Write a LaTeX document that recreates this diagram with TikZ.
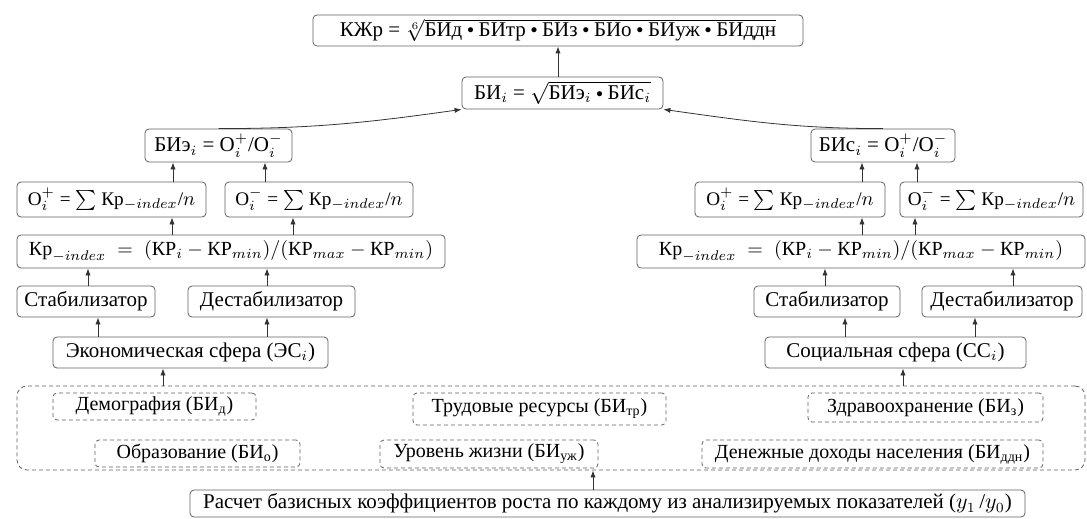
\documentclass[tikz,border=0pt]{standalone}
\usepackage{amsmath}
\usepackage{fontspec}
\setmainfont{Liberation Serif}
\usetikzlibrary{arrows.meta}
\newcommand{\mdot}{\mathbin{\vcenter{\hbox{\scalebox{0.6}{$\bullet$}}}}}

\begin{document}
\begin{tikzpicture}[x=0.5pt,y=-0.5pt,
  main/.style={draw=gray!75!black,rounded corners=2pt,inner sep=0pt,font=\fontsize{10.5}{12}\selectfont},
  wh/.style 2 args={minimum width=#1*0.5pt,minimum height=#2*0.5pt},
  dashbox/.style={main,dash pattern=on 2pt off 1.5pt,font=\fontsize{10}{12}\selectfont},
  small/.style={font=\fontsize{9.6}{11}\selectfont},
  arr/.style={-{Latex[length=3.5pt,width=2.6pt]},draw=gray!40!black,line width=0.4pt}]
\useasboundingbox (0,0) rectangle (1087,519);

\node[main,wh={490}{31}] (1) at (558,30.5) {КЖр = $\sqrt[6]{\text{БИд} \mdot \text{БИтр} \mdot \text{БИз} \mdot \text{БИо} \mdot \text{БИуж} \mdot \text{БИддн}}$};
\node[main,wh={201}{32}] (2) at (562.5,93) {БИ$_i$ = $\sqrt{\text{БИэ}_i \mdot \text{БИс}_i}$};
\node[main,wh={147}{33}] (3) at (218.5,145.5) {БИэ$_i$ = О$_i^+$/О$_i^-$};
\node[main,wh={144}{33}] (4) at (883,145.5) {БИс$_i$ = О$_i^+$/О$_i^-$};
\node[main,small,wh={189}{35}] (5) at (111.5,199.5) {О$_i^+$ = $\sum$ Кр$_{-index}$/$n$};
\node[main,small,wh={188}{35}] (6) at (319,199.5) {О$_i^-$ = $\sum$ Кр$_{-index}$/$n$};
\node[main,small,wh={190}{35}] (7) at (790,199.5) {О$_i^+$ = $\sum$ Кр$_{-index}$/$n$};
\node[main,small,wh={183}{35}] (8) at (991.5,199.5) {О$_i^-$ = $\sum$ Кр$_{-index}$/$n$};
\node[main,font=\fontsize{10}{12}\selectfont,wh={428}{33}] (9) at (231,251.5) {$\text{Кр}_{-index} \;=\; (\text{КР}_i - \text{КР}_{min})/(\text{КР}_{max} - \text{КР}_{min})$};
\node[main,font=\fontsize{10}{12}\selectfont,wh={448}{33}] (10) at (861,251.5) {$\text{Кр}_{-index} \;=\; (\text{КР}_i - \text{КР}_{min})/(\text{КР}_{max} - \text{КР}_{min})$};
\node[main,wh={138}{31}] (11) at (86,301.5) {Стабилизатор};
\node[main,wh={167}{31}] (12) at (271.5,301.5) {Дестабилизатор};
\node[main,wh={146}{31}] (13) at (827,301.5) {Стабилизатор};
\node[main,wh={160}{31}] (14) at (1002,301.5) {Дестабилизатор};
\node[main,wh={275}{31}] (15) at (190.5,352.5) {Экономическая сфера (ЭС$_i$)};
\node[main,wh={261}{31}] (16) at (895.5,352.5) {Социальная сфера (СС$_i$)};
\node[dashbox,wh={1068}{84},rounded corners=5pt] (17) at (551,428) {};
\node[dashbox,wh={203}{27}] (18) at (154.5,406.5) {Демография (БИ\textsubscript{д})};
\node[dashbox,wh={253}{32}] (19) at (539.5,409) {Трудовые ресурсы (БИ\textsubscript{тр})};
\node[dashbox,wh={235}{29}] (20) at (925.5,407.5) {Здравоохранение (БИ\textsubscript{з})};
\node[dashbox,wh={205}{27}] (21) at (197.5,453.5) {Образование (БИ\textsubscript{о})};
\node[dashbox,wh={218}{28}] (22) at (489,454) {Уровень жизни (БИ\textsubscript{уж})};
\node[dashbox,wh={341}{28}] (23) at (872.5,454) {Денежные доходы населения (БИ\textsubscript{ддн})};
\node[main,wh={835}{27}] (24) at (607.5,503.5) {Расчет базисных коэффициентов роста по каждому из анализируемых показателей ($y_1$\,/$y_0$)};

\draw[arr] (2.north -| 558,0) -- (1.south -| 558,0);
\draw[arr] (3.north) to[out=0,in=188] (2.south west);
\draw[arr] (4.north) to[out=180,in=-8] (2.south east);
\draw[arr] (5.north -| 173,0) -- (3.south -| 173,0);
\draw[arr] (6.north -| 265,0) -- (3.south -| 265,0);
\draw[arr] (7.north -| 862,0) -- (4.south -| 862,0);
\draw[arr] (8.north -| 917,0) -- (4.south -| 917,0);
\draw[arr] (9.north -| 172,0) -- (5.south -| 172,0);
\draw[arr] (9.north -| 293,0) -- (6.south -| 293,0);
\draw[arr] (10.north -| 862,0) -- (7.south -| 862,0);
\draw[arr] (10.north -| 915,0) -- (8.south -| 915,0);
\draw[arr] (11.north -| 88,0) -- (9.south -| 88,0);
\draw[arr] (12.north -| 267,0) -- (9.south -| 267,0);
\draw[arr] (13.north -| 825,0) -- (10.south -| 825,0);
\draw[arr] (14.north -| 1013,0) -- (10.south -| 1013,0);
\draw[arr] (15.north -| 98,0) -- (11.south -| 98,0);
\draw[arr] (15.north -| 267,0) -- (12.south -| 267,0);
\draw[arr] (16.north -| 845,0) -- (13.south -| 845,0);
\draw[arr] (16.north -| 975,0) -- (14.south -| 975,0);
\draw[arr] (17.north -| 163,0) -- (15.south -| 163,0);
\draw[arr] (17.north -| 903,0) -- (16.south -| 903,0);
\draw[arr] (24.north -| 593,0) -- (17.south -| 593,0);
\end{tikzpicture}
\end{document}
